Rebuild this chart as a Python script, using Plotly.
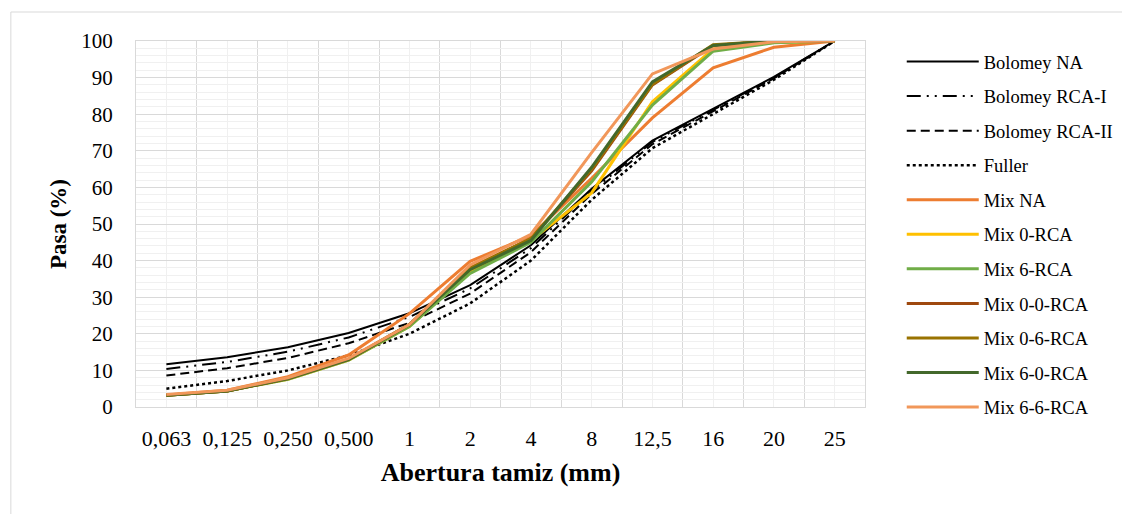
import plotly.graph_objects as go

categories = ["0,063", "0,125", "0,250", "0,500", "1", "2", "4", "8", "12,5", "16", "20", "25"]

bolomey_na = [11.7, 13.6, 16.3, 20.2, 25.6, 33.3, 44.2, 59.6, 72.8, 81.4, 90.2, 100]
bolomey_rca1 = [10.4, 12.3, 15.1, 19.0, 24.6, 32.4, 43.4, 59.0, 72.4, 81.1, 90.0, 100]
bolomey_rca2 = [8.6, 10.6, 13.4, 17.4, 23.0, 31.0, 42.3, 58.2, 71.8, 80.8, 89.8, 100]
fuller = [5.0, 7.1, 10.0, 14.1, 20.0, 28.3, 40.0, 56.6, 70.7, 80.0, 89.4, 100]
mix_na = [3.3, 4.6, 8.3, 14.2, 25.5, 39.8, 46.8, 62.5, 79.0, 92.7, 98.3, 100]
mix_0_rca = [3.2, 4.4, 7.6, 12.8, 22.0, 37.0, 45.5, 58.5, 83.4, 97.8, 99.6, 100]
mix_6_rca = [3.2, 4.4, 7.6, 12.8, 22.0, 36.5, 45.0, 61.5, 82.5, 97.2, 99.5, 100]
mix_0_0_rca = [3.2, 4.4, 7.8, 13.0, 22.5, 38.0, 46.0, 64.5, 88.0, 98.8, 100, 100]
mix_0_6_rca = [3.2, 4.4, 7.8, 13.0, 22.5, 38.0, 46.0, 65.0, 88.2, 99.0, 100, 100]
mix_6_0_rca = [3.2, 4.4, 7.8, 13.0, 22.5, 37.5, 45.5, 65.5, 88.8, 98.8, 100, 100]
mix_6_6_rca = [3.4, 4.6, 8.0, 13.3, 22.5, 38.8, 47.2, 69.5, 91.0, 97.8, 99.8, 100]

series = [
    ("Bolomey NA", bolomey_na, "#000000", "solid", 2),
    ("Bolomey RCA-I", bolomey_rca1, "#000000", "14px,6px,2px,6px,2px,6px", 2),
    ("Bolomey RCA-II", bolomey_rca2, "#000000", "9px,5px", 2),
    ("Fuller", fuller, "#000000", "dot", 2.5),
    ("Mix NA", mix_na, "#ED7D31", "solid", 3),
    ("Mix 0-RCA", mix_0_rca, "#FFC000", "solid", 3),
    ("Mix 6-RCA", mix_6_rca, "#70AD47", "solid", 3),
    ("Mix 0-0-RCA", mix_0_0_rca, "#9E480E", "solid", 3),
    ("Mix 0-6-RCA", mix_0_6_rca, "#997300", "solid", 3),
    ("Mix 6-0-RCA", mix_6_0_rca, "#43682B", "solid", 3),
    ("Mix 6-6-RCA", mix_6_6_rca, "#F1975A", "solid", 3),
]

xidx = list(range(len(categories)))
fig = go.Figure()
for name, vals, color, dash, w in series:
    fig.add_trace(go.Scatter(x=xidx, y=vals, name=name, mode="lines",
                             line=dict(color=color, dash=dash, width=w),
                             legendgroup=name))

FONT = "Liberation Serif, Times New Roman, serif"
W, H = 1122, 506
L, T = 128, 33
pw, ph = 734, 366
R = W - L - pw
B = H - T - ph

fig.update_layout(
    width=W, height=H,
    margin=dict(l=L, r=R, t=T, b=B, pad=0),
    paper_bgcolor="white", plot_bgcolor="white",
    font=dict(family=FONT, size=21, color="#000000"),
    showlegend=True,
    legend=dict(x=(899 - L) / pw, xanchor="left", y=(T + ph - 35) / ph, yanchor="top",
                font=dict(family=FONT, size=18.5), tracegroupgap=7.5,
                itemwidth=72, bgcolor="rgba(0,0,0,0)", maxheight=480),
    xaxis=dict(
        range=[-0.5, len(categories) - 0.5],
        tickmode="array", tickvals=xidx, ticktext=categories,
        tickfont=dict(size=22),
        showgrid=True, gridcolor="#f0f0f0", gridwidth=1,
        minor=dict(tick0=-0.5, dtick=1, showgrid=True, gridcolor="#d9d9d9", gridwidth=1),
        showline=True, linecolor="#d9d9d9", mirror=True,
        zeroline=False, ticks="", ticklabelstandoff=12,
        title=dict(text="<b>Abertura tamiz (mm)</b>", font=dict(size=26), standoff=12),
    ),
    yaxis=dict(
        range=[0, 100], tickmode="linear", tick0=0, dtick=10,
        tickfont=dict(size=21),
        showgrid=True, gridcolor="#d9d9d9", gridwidth=1,
        minor=dict(tick0=0, dtick=2, showgrid=True, gridcolor="#f0f0f0", gridwidth=1),
        showline=True, linecolor="#d9d9d9", mirror=True,
        zeroline=False, ticks="", ticklabelstandoff=18,
        title=dict(text="<b>Pasa (%)</b>", font=dict(size=23), standoff=8),
    ),
    shapes=[dict(type="rect", xref="paper", yref="paper",
                 x0=(2 - L) / pw, x1=(W + 20 - L) / pw,
                 y0=(T + ph - (H + 20)) / ph, y1=(T + ph - 4) / ph,
                 line=dict(color="#d9d9d9", width=1), fillcolor="rgba(0,0,0,0)", layer="below")],
)

fig.write_html("out.html")
